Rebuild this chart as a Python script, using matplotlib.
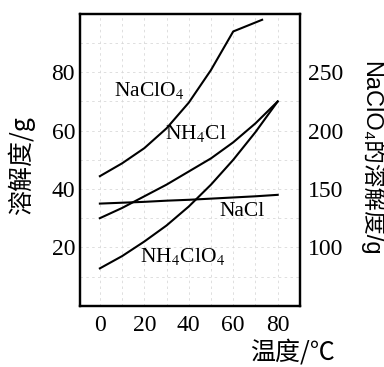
import matplotlib
matplotlib.use("Agg")
import numpy as np
from matplotlib import pyplot as plt

plt.rcParams['font.family'] = ['Liberation Serif', 'Noto Sans CJK SC', 'DejaVu Sans']
plt.rcParams['mathtext.fontset'] = 'stix'

# solubility data (g per 100 g water)
temps = [0, 10, 20, 30, 40, 50, 60, 70, 80]
nh4cl = [30.0, 33.5, 37.5, 41.5, 46.0, 50.5, 56.0, 62.5, 70.0]
nacl = [35.0, 35.3, 35.6, 36.0, 36.3, 36.7, 37.1, 37.5, 38.0]
nh4clo4 = [12.8, 17.0, 22.0, 27.5, 34.0, 41.5, 50.0, 59.5, 70.0]

# NaClO4 on the right axis
naclo4_t = [0, 10, 20, 30, 40, 50, 60, 73]
naclo4 = [161, 172, 185, 202, 224, 252, 285, 295]

x_ticks = [0, 20, 40, 60, 80]
y_ticks = [20, 40, 60, 80]
y2_ticks = [100, 150, 200, 250]

fig = plt.figure(figsize=(3.84, 3.67), dpi=100)
ax = fig.add_axes([0.208, 0.167, 0.573, 0.795])
ax2 = ax.twinx()

grid_kw = dict(color='#d9d9d9', lw=0.6, ls=(0, (3, 4)), zorder=0)
for gx in range(0, 81, 10):
    ax.axvline(gx, **grid_kw)
for gy in range(10, 91, 10):
    ax.axhline(gy, **grid_kw)

ax.plot(temps, nh4cl, color='black', lw=1.5)
ax.plot(temps, nacl, color='black', lw=1.5)
ax.plot(temps, nh4clo4, color='black', lw=1.5)
ax2.plot(naclo4_t, naclo4, color='black', lw=1.5)

ax.set_xlim(-9, 90)
ax.set_ylim(0, 100)
ax2.set_ylim(50, 300)

ax.set_xticks(x_ticks)
ax.set_yticks(y_ticks)
ax2.set_yticks(y2_ticks)
ax.tick_params(axis='x', length=0, pad=7, labelsize=17)
ax.tick_params(axis='y', length=0, pad=3.5, labelsize=17)
ax2.tick_params(axis='y', length=0, pad=5.5, labelsize=17)

for a in (ax, ax2):
    for s in a.spines.values():
        s.set_linewidth(1.6)

# curve labels
ax.text(22, 73.8, 'NaClO$_4$', fontsize=15.5, ha='center', va='center')
ax.text(43, 59, 'NH$_4$Cl', fontsize=15.5, ha='center', va='center')
ax.text(64, 32.4, 'NaCl', fontsize=15.5, ha='center', va='center')
ax.text(37, 17, 'NH$_4$ClO$_4$', fontsize=15.5, ha='center', va='center')

# axis titles
ax.text(-0.264, 0.479, '溶解度/g', transform=ax.transAxes, rotation=90,
        ha='center', va='center', fontsize=18,
        family=['Noto Sans CJK SC', 'DejaVu Sans'])
ax.text(1.327, 0.506, 'NaClO₄的溶解度/g', transform=ax.transAxes, rotation=270,
        ha='center', va='center', fontsize=17,
        family=['Liberation Sans', 'Noto Sans CJK SC', 'DejaVu Sans'])
ax.text(0.964, -0.159, '温度/℃', transform=ax.transAxes,
        ha='center', va='center', fontsize=18,
        family=['Noto Sans CJK SC', 'DejaVu Sans'])

fig.savefig('out.png', dpi=100)
